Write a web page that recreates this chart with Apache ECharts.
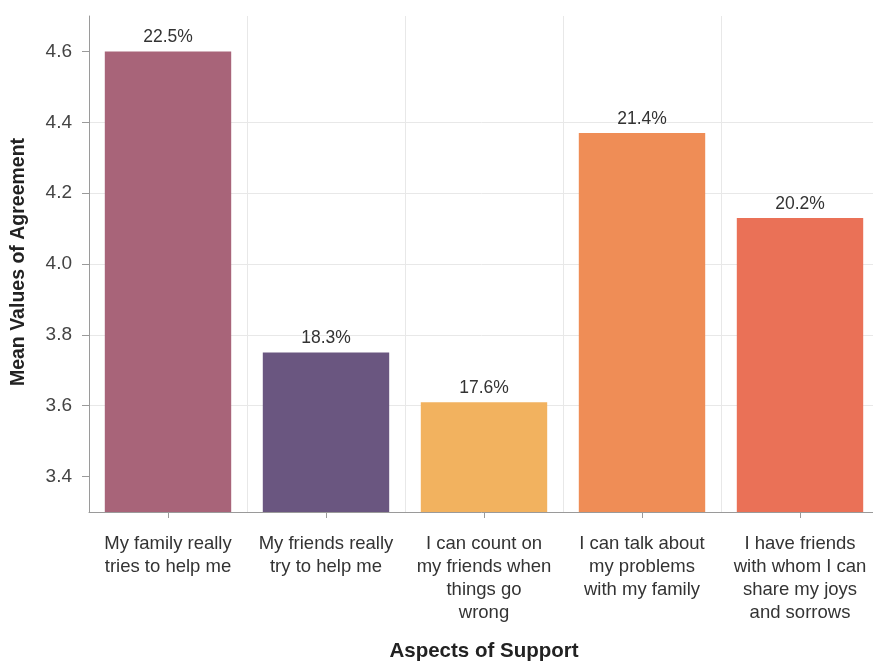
<!DOCTYPE html>
<html>
<head>
<meta charset="utf-8">
<script src="https://cdn.jsdelivr.net/npm/echarts@6/dist/echarts.min.js"></script>
<style>
html,body{margin:0;padding:0;background:#fff;}
#chart{width:873px;height:661px;}
</style>
</head>
<body>
<div id="chart"></div>
<script>
var categories = [
  'My family really\ntries to help me',
  'My friends really\ntry to help me',
  'I can count on\nmy friends when\nthings go\nwrong',
  'I can talk about\nmy problems\nwith my family',
  'I have friends\nwith whom I can\nshare my joys\nand sorrows'
];
var meanValues = [4.60, 3.75, 3.61, 4.37, 4.13];
var percentLabels = [22.5, 18.3, 17.6, 21.4, 20.2];
var barColors = ['#a86479', '#6a5680', '#f2b25f', '#ef8d56', '#ea7157'];
var yTicks = [3.4, 3.6, 3.8, 4.0, 4.2, 4.4, 4.6];
var yMin = 3.3, yMax = 4.7;

var chart = echarts.init(document.getElementById('chart'));
var FONT = '"Liberation Sans", Arial, Helvetica, sans-serif';

chart.setOption({
  animation: false,
  backgroundColor: '#ffffff',
  grid: { left: 89, right: -6, top: 16, bottom: 149, containLabel: false, outerBoundsMode: 'none' },
  xAxis: {
    type: 'category',
    data: categories,
    name: 'Aspects of Support',
    nameLocation: 'middle',
    nameGap: 129,
    nameTextStyle: { fontFamily: FONT, fontSize: 20.5, fontWeight: 'bold', color: '#222' },
    axisLine: { show: true, lineStyle: { color: '#9a9a9a', width: 1 } },
    axisTick: { show: true, alignWithLabel: true, length: 6, lineStyle: { color: '#9a9a9a' } },
    axisLabel: { interval: 0, margin: 20, fontFamily: FONT, fontSize: 18.5, lineHeight: 23, color: '#333', align: 'center' },
    splitLine: { show: true, interval: 0, lineStyle: { color: '#e8e8e8', width: 1 } }
  },
  yAxis: {
    type: 'value',
    min: yMin,
    max: yMax,
    name: 'Mean Values of Agreement',
    nameLocation: 'middle',
    nameGap: 60,
    nameTextStyle: { fontFamily: FONT, fontSize: 19.5, fontWeight: 'bold', color: '#222', padding: [0, 0, 0, 4] },
    axisLine: { show: true, lineStyle: { color: '#9a9a9a', width: 1 } },
    axisTick: { show: true, length: 7, customValues: yTicks, lineStyle: { color: '#9a9a9a' } },
    axisLabel: {
      customValues: yTicks,
      margin: 17,
      fontFamily: FONT, fontSize: 19, color: '#444',
      formatter: function (v) { return v.toFixed(1); }
    },
    splitLine: { show: true, showMinLine: false, showMaxLine: false, lineStyle: { color: '#e8e8e8', width: 1 } }
  },
  series: [{
    type: 'bar',
    barWidth: '80%',
    data: meanValues.map(function (v, i) {
      return { value: v, itemStyle: { color: barColors[i] } };
    }),
    label: {
      show: true,
      position: 'top',
      distance: 5,
      fontFamily: FONT,
      fontSize: 17.5,
      color: '#333',
      formatter: function (p) { return percentLabels[p.dataIndex].toFixed(1) + '%'; }
    }
  }]
});
</script>
</body>
</html>
